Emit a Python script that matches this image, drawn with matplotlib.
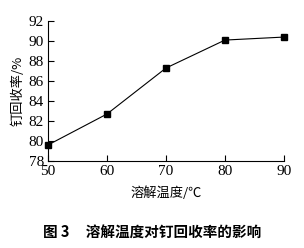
import matplotlib

matplotlib.use("Agg")
import matplotlib.pyplot as plt

plt.rcParams["font.family"] = ["Liberation Serif", "Noto Sans CJK SC"]

temps = [50, 60, 70, 80, 90]
recovery = [79.6, 82.7, 87.3, 90.1, 90.4]
xticks = [50, 60, 70, 80, 90]
yticks = [78, 80, 82, 84, 86, 88, 90, 92]

CJK = ["Noto Sans CJK SC", "DejaVu Sans"]

fig = plt.figure(figsize=(3.04, 2.48), dpi=100)
ax = fig.add_axes([0.158, 0.351, 0.776, 0.564])
ax.plot(temps, recovery, color="black", lw=0.8, marker="s", ms=4.5,
        mfc="black", mec="black", clip_on=False, zorder=3)
ax.set_xlim(50, 90)
ax.set_ylim(78, 92)
ax.set_xticks(xticks)
ax.set_yticks(yticks)
ax.tick_params(direction="in", length=4, width=0.8, labelsize=11,
               colors="black", pad=3)
for lab in ax.get_xticklabels() + ax.get_yticklabels():
    lab.set_fontfamily("Liberation Serif")
for s in ("top", "right"):
    ax.spines[s].set_visible(False)
for s in ("left", "bottom"):
    ax.spines[s].set_linewidth(0.8)

ax.set_xlabel("溶解温度/℃", family=CJK, fontsize=9.5, labelpad=6)
ax.set_ylabel("钉回收率/%", family=CJK, fontsize=9.5, labelpad=3)
fig.text(0.5, 0.06, "图 3     溶解温度对钉回收率的影响", family=CJK,
         fontsize=10.5, fontweight="bold", ha="center", va="center")

fig.savefig("out.png", dpi=100, facecolor="white")
